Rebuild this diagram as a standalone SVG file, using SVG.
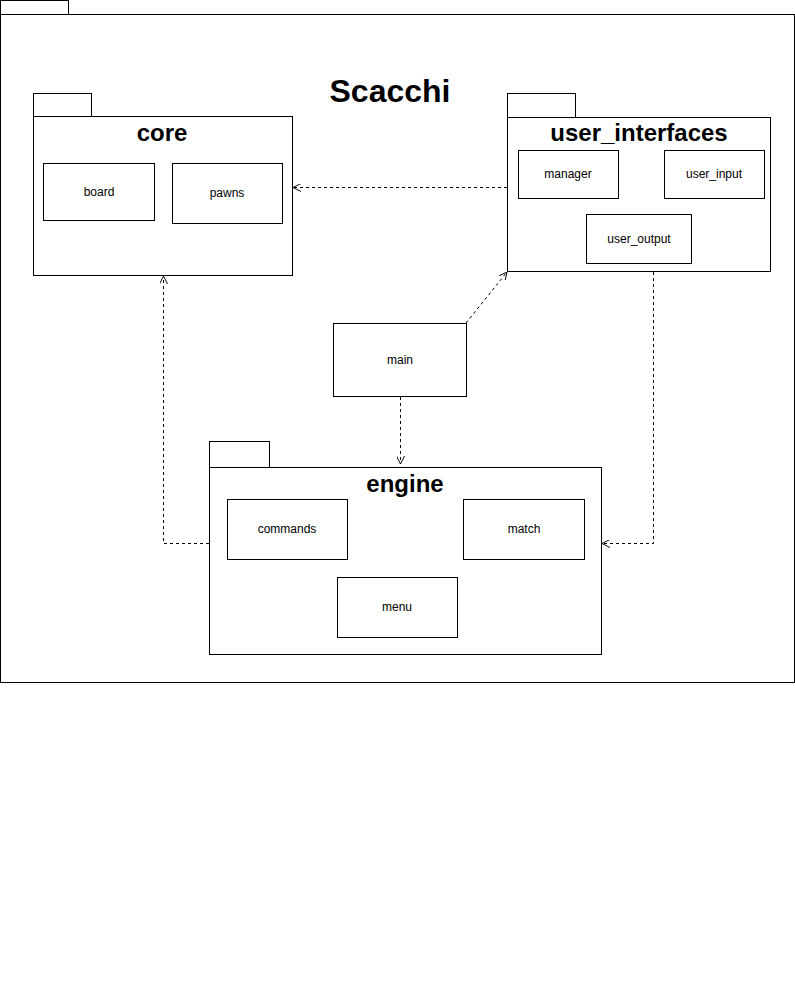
<svg xmlns="http://www.w3.org/2000/svg" width="795" height="1000" viewBox="0 0 795 1000">
<style>
.b{fill:#fff;stroke:#000;stroke-width:1}
.t{font-family:"Liberation Sans",Arial,sans-serif;font-size:12px;text-anchor:middle;fill:#000}
.h{font-family:"Liberation Sans",Arial,sans-serif;font-weight:bold;text-anchor:middle;fill:#000}
.c{fill:none;stroke:#000;stroke-width:1;stroke-dasharray:3 3}
</style>
<defs>
<marker id="a" viewBox="0 0 10 10" refX="10" refY="5" markerWidth="8" markerHeight="8" markerUnits="userSpaceOnUse" orient="auto">
<path d="M0,0 L10,5 L0,10" fill="none" stroke="#000" stroke-width="1.2"/>
</marker>
</defs>
<rect width="795" height="1000" fill="#fff"/>
<g id="scacchi">
<rect class="b" x="0.5" y="0.5" width="68" height="14"/>
<rect class="b" x="0.5" y="14.5" width="794" height="668"/>
<text class="h" x="390" y="102" font-size="32">Scacchi</text>
</g>
<g id="core">
<rect class="b" x="33.5" y="93.5" width="58" height="23"/>
<rect class="b" x="33.5" y="116.5" width="259" height="159"/>
<text class="h" x="162" y="141" font-size="24">core</text>
</g>
<g id="board"><rect class="b" x="43.5" y="163.5" width="111" height="57"/><text class="t" x="99" y="196">board</text></g>
<g id="pawns"><rect class="b" x="172.5" y="163.5" width="110" height="60"/><text class="t" x="227" y="197">pawns</text></g>
<g id="user_interfaces">
<rect class="b" x="507.5" y="93.5" width="68" height="24"/>
<rect class="b" x="507.5" y="117.5" width="263" height="154"/>
<text class="h" x="639" y="141" font-size="24">user_interfaces</text>
</g>
<g id="manager"><rect class="b" x="518.5" y="150.5" width="100" height="48"/><text class="t" x="568" y="178">manager</text></g>
<g id="user_input"><rect class="b" x="664.5" y="150.5" width="100" height="48"/><text class="t" x="714" y="178">user_input</text></g>
<g id="user_output"><rect class="b" x="586.5" y="214.5" width="105" height="49"/><text class="t" x="639" y="243">user_output</text></g>
<g id="main"><rect class="b" x="333.5" y="323.5" width="133" height="73"/><text class="t" x="400" y="364">main</text></g>
<g id="engine">
<rect class="b" x="209.5" y="441.5" width="60" height="26"/>
<rect class="b" x="209.5" y="467.5" width="392" height="187"/>
<text class="h" x="405" y="492" font-size="24">engine</text>
</g>
<g id="commands"><rect class="b" x="227.5" y="499.5" width="120" height="60"/><text class="t" x="287" y="533">commands</text></g>
<g id="match"><rect class="b" x="463.5" y="499.5" width="121" height="60"/><text class="t" x="524" y="533">match</text></g>
<g id="menu"><rect class="b" x="337.5" y="577.5" width="120" height="60"/><text class="t" x="397" y="611">menu</text></g>
<g id="connectors">
<path class="c" d="M507,187.5 L293,187.5" marker-end="url(#a)"/>
<path class="c" d="M466,323 L507,272" marker-end="url(#a)"/>
<path class="c" d="M209,543.5 L163.5,543.5 L163.5,276" marker-end="url(#a)"/>
<path class="c" d="M400.5,397 L400.5,464" marker-end="url(#a)"/>
<path class="c" d="M653.5,272 L653.5,543.5 L602,543.5" marker-end="url(#a)"/>
</g>
</svg>
